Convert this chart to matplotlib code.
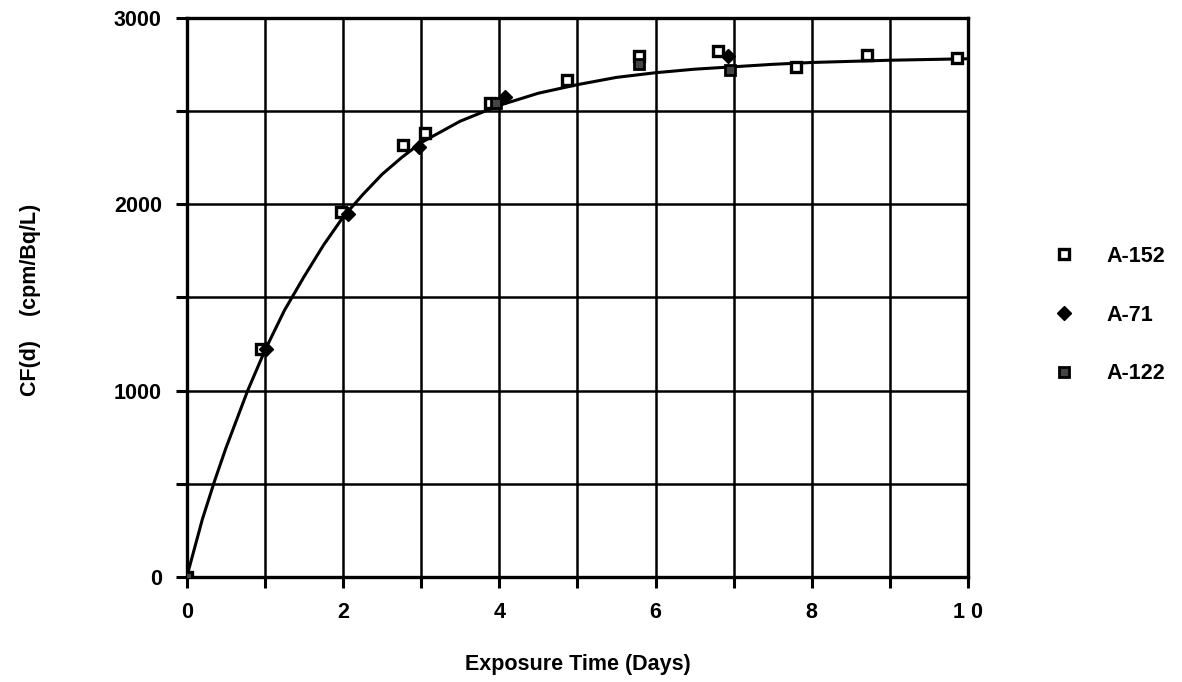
import numpy as np
import matplotlib
matplotlib.use("Agg")
import matplotlib.pyplot as plt

plt.rcParams['font.family'] = ['Liberation Sans', 'DejaVu Sans']
plt.rcParams['font.weight'] = 'bold'

# data
a152_t = [0, 0.95, 1.97, 2.77, 3.05, 3.88, 4.87, 5.79, 6.80, 7.80, 8.71, 9.86]
a152_cf = [0, 1225, 1960, 2315, 2380, 2545, 2668, 2797, 2823, 2738, 2802, 2786]
a71_t = [1.02, 2.06, 2.97, 4.07, 6.93]
a71_cf = [1224, 1945, 2308, 2577, 2795]
a122_t = [0, 3.96, 5.79, 6.95]
a122_cf = [0, 2545, 2750, 2720]

# fitted curve
fit_t = [0, 0.2, 0.36, 0.5, 0.78, 1.0, 1.25, 1.5, 1.75, 2.0, 2.25, 2.5, 2.75, 3.0,
         3.5, 4.0, 4.5, 5.0, 5.5, 6.0, 6.5, 7.0, 7.5, 8.0, 9.0, 10.0]
fit_cf = [0, 310, 520, 690, 1000, 1215, 1430, 1610, 1780, 1930, 2050, 2160, 2250, 2330,
          2445, 2530, 2595, 2641, 2680, 2705, 2724, 2737, 2750, 2760, 2772, 2780]

fig = plt.figure(figsize=(11.82, 6.82), dpi=100)
ax = fig.add_axes([0.158, 0.154, 0.661, 0.820])

ax.plot(fit_t, fit_cf, color='black', lw=2.2, zorder=3)
ax.plot(a152_t, a152_cf, 's', ms=7, mfc='white', mec='black', mew=2.4, ls='none',
        label='A-152', zorder=4)
ax.plot(a71_t, a71_cf, 'D', ms=7, color='black', ls='none', label='A-71', zorder=4)
ax.plot(a122_t, a122_cf, 's', ms=7, mfc='#444444', mec='black', mew=2, ls='none',
        label='A-122', zorder=4)

ax.set_xlim(0, 10)
ax.set_ylim(0, 3000)
ax.set_xticks(np.arange(0, 11, 1))
ax.set_xticklabels(['0', '', '2', '', '4', '', '6', '', '8', '', '1 0'])
ax.set_yticks(np.arange(0, 3001, 500))
ax.set_yticklabels(['0', '', '1000', '', '2000', '', '3000'])
ax.grid(True, color='black', lw=1.8)
ax.set_axisbelow(True)
for s in ax.spines.values():
    s.set_linewidth(2.4)
ax.tick_params(direction='out', length=8, width=2.2, labelsize=15.5, pad=10)

ax.set_xlabel('Exposure Time (Days)', fontsize=15.5, fontweight='bold', labelpad=22)
fig.text(0.026, 0.56, 'CF(d)    (cpm/Bq/L)', rotation=90, fontsize=15.5,
         fontweight='bold', ha='center', va='center')

ax.legend(loc='upper left', bbox_to_anchor=(1055 / 1182, 1 - 246 / 682),
          bbox_transform=fig.transFigure, frameon=False, borderpad=0,
          borderaxespad=0, fontsize=15.5, handlelength=0.8, handletextpad=1.6,
          labelspacing=1.75)

fig.savefig('out.png', dpi=100)
